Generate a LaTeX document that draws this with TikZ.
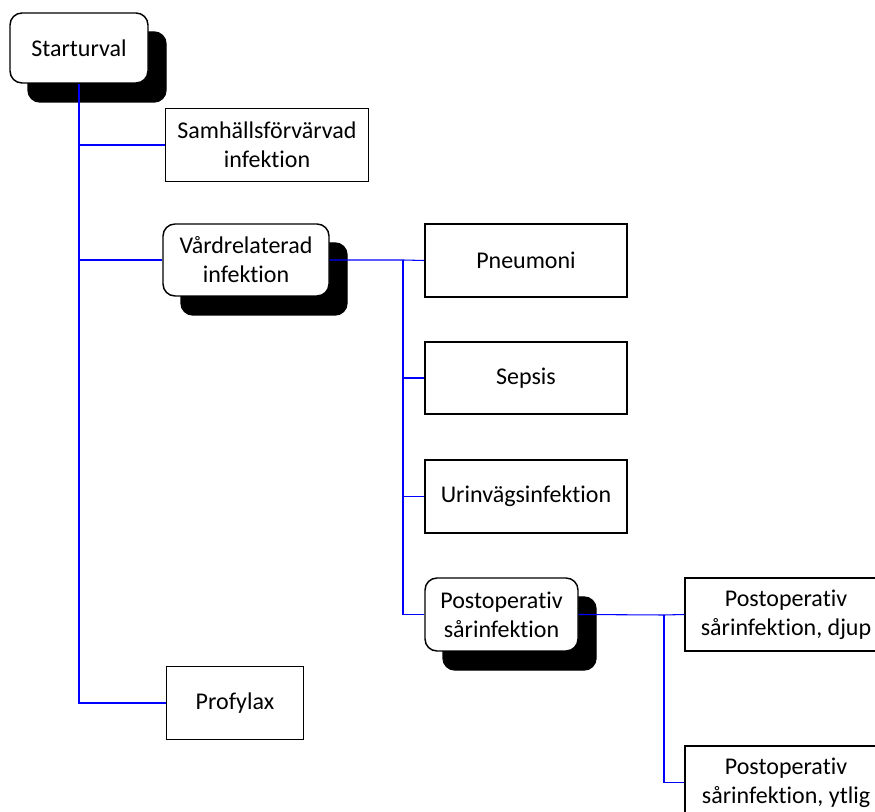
\documentclass[tikz,border=0pt]{standalone}
\usepackage{fontspec}
\setmainfont{Carlito}[Ligatures={NoCommon}]
\usetikzlibrary{shadows}
\begin{document}
\begin{tikzpicture}[x=0.75pt,y=-0.75pt,
  base/.style={draw=black, line width=1.1pt, fill=white, align=center, inner sep=0pt,
    font=\fontsize{18pt}{21.75pt}\selectfont},
  sqbox/.style={base},
  rbox/.style={base, rounded corners=9pt},
  shad/.style={copy shadow={shadow xshift=13.5pt, shadow yshift=-14.25pt, fill=black, draw=black}},
  link/.style={draw=blue, line width=0.8pt}]
\useasboundingbox (0,0) rectangle (875,812);
\clip (0,0) rectangle (875,812);
\node[rbox, shad, minimum width=103.5pt, minimum height=52.5pt] (start) at (79,48) {Starturval};
\node[sqbox, minimum width=152pt, minimum height=54.5pt] (samh) at (267,145) {Samhällsförvärvad\\infektion};
\node[rbox, shad, minimum width=124.5pt, minimum height=54pt] (vard) at (246,260) {Vårdrelaterad\\infektion};
\node[sqbox, minimum width=151.5pt, minimum height=54.5pt] (pneu) at (526,260.5) {Pneumoni};
\node[sqbox, minimum width=151.5pt, minimum height=54pt] (sepsis) at (526,378) {Sepsis};
\node[sqbox, minimum width=151.5pt, minimum height=54.5pt] (urin) at (526,496.5) {Urinvägsinfektion};
\node[rbox, shad, minimum width=114.75pt, minimum height=54.75pt] (post) at (501.5,614.5) {Postoperativ\\sårinfektion};
\node[sqbox, minimum width=151.5pt, minimum height=54.75pt] (djup) at (786,614.5) {Postoperativ\\sårinfektion, djup};
\node[sqbox, minimum width=151.5pt, minimum height=54.75pt] (ytlig) at (786,782.5) {Postoperativ\\sårinfektion, ytlig};
\node[sqbox, minimum width=103pt, minimum height=55pt] (prof) at (235,703) {Profylax};
\coordinate (b1) at (403,260);
\coordinate (b2) at (664,615);
\draw[link] (start.south) |- (prof.west);
\draw[link] (start.south |- samh.west) -- (samh.west);
\draw[link] (start.south |- vard.west) -- (vard.west);
\draw[link] (vard.east) -- (b1) -- (pneu.west);
\draw[link] (b1) |- (sepsis.west);
\draw[link] (b1) |- (urin.west);
\draw[link] (b1) |- (post.west);
\draw[link] (post.east) -- (b2) -- (djup.west);
\draw[link] (b2) |- (ytlig.west);
\end{tikzpicture}
\end{document}
